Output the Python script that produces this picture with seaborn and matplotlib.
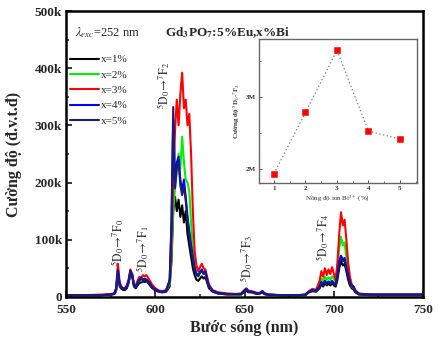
import matplotlib
matplotlib.use("Agg")
import matplotlib.pyplot as plt
from matplotlib.ticker import MultipleLocator, FixedLocator
import numpy as np
import pandas as pd
import seaborn as sns

# ---------------- data ----------------
wavelength = [550, 560, 570, 575, 577, 578, 579, 580, 581, 582,
              583, 584, 585, 586, 587, 588, 589, 590, 591, 592,
              593, 594, 595, 596, 597, 598, 600, 602, 604, 606,
              608, 609, 610, 611, 612, 613, 614, 615, 616, 617,
              618, 619, 620, 621, 622, 623, 624, 625, 626, 627,
              628, 629, 630, 632, 635, 640, 645, 648, 650, 651,
              652, 654, 656, 658, 660, 661, 663, 670, 680, 684,
              686, 688, 690, 691, 692, 693, 694, 695, 696, 697,
              698, 699, 700, 701, 702, 703, 704, 705, 706, 707,
              708, 709, 710, 711, 712, 714, 720, 730, 740, 750]

# intensities in units of k (1000 counts)
x1 = [3, 3, 3, 4, 5, 10, 38, 18, 14, 12,
      12, 15, 24, 38, 40, 18, 15, 20, 24, 25,
      27, 26, 28, 24, 20, 16, 11, 9, 8, 9,
      18, 60, 150, 175, 150, 170, 140, 160, 130, 150,
      110, 90, 70, 50, 38, 30, 28, 32, 36, 32,
      35, 25, 15, 9, 6, 4, 4, 4, 9, 11,
      8, 8, 6, 5, 8, 5, 3, 3, 3, 3,
      8, 10, 9, 12, 15, 22, 18, 24, 20, 23,
      20, 24, 20, 18, 30, 50, 62, 55, 58, 45,
      30, 20, 15, 13, 8, 4, 3, 3, 3, 3]
x2 = [3, 3, 3, 4, 6, 12, 42, 20, 16, 14,
      14, 18, 28, 44, 36, 20, 18, 24, 28, 28,
      32, 30, 31, 28, 24, 19, 13, 10, 9, 11,
      22, 70, 150, 190, 220, 250, 225, 280, 235, 205,
      200, 185, 130, 85, 55, 42, 36, 42, 46, 40,
      42, 30, 19, 11, 7, 5, 5, 5, 11, 13,
      10, 9, 7, 6, 9, 6, 4, 3, 3, 4,
      9, 12, 11, 16, 22, 32, 28, 35, 30, 34,
      30, 36, 32, 26, 50, 85, 105, 90, 95, 70,
      45, 28, 18, 15, 10, 5, 4, 4, 4, 4]
x3 = [3, 3, 4, 5, 6, 15, 58, 25, 18, 15,
      16, 20, 30, 48, 40, 22, 20, 28, 35, 33,
      38, 36, 38, 33, 28, 22, 15, 11, 10, 12,
      25, 90, 200, 290, 345, 300, 355, 392, 330, 345,
      300, 320, 250, 150, 80, 55, 45, 52, 58, 50,
      48, 35, 22, 12, 8, 6, 5, 6, 12, 15,
      11, 10, 8, 6, 10, 7, 4, 3, 3, 4,
      10, 14, 12, 20, 28, 45, 35, 50, 38, 48,
      40, 52, 40, 30, 60, 110, 148, 125, 135, 100,
      60, 35, 22, 18, 12, 6, 4, 4, 4, 4]
x4 = [3, 3, 3, 4, 6, 14, 47, 22, 16, 14,
      15, 18, 28, 46, 38, 20, 18, 24, 30, 34,
      30, 32, 30, 27, 23, 18, 13, 10, 9, 11,
      30, 120, 310, 200, 235, 245, 205, 185, 205, 175,
      140, 115, 90, 70, 50, 40, 38, 44, 48, 42,
      45, 30, 19, 11, 7, 5, 5, 5, 12, 14,
      10, 9, 7, 6, 10, 6, 4, 3, 3, 4,
      9, 12, 11, 14, 18, 26, 22, 28, 24, 27,
      24, 28, 24, 22, 38, 62, 72, 65, 68, 52,
      38, 25, 20, 18, 10, 5, 4, 4, 4, 4]
x5 = [3, 3, 3, 4, 5, 13, 44, 21, 15, 13,
      14, 17, 27, 44, 37, 19, 17, 23, 28, 32,
      29, 30, 29, 26, 22, 17, 12, 9, 8, 10,
      28, 130, 332, 190, 225, 235, 195, 178, 195, 168,
      135, 110, 85, 65, 47, 38, 36, 42, 46, 40,
      43, 28, 18, 10, 6, 5, 5, 5, 11, 13,
      9, 8, 6, 5, 9, 5, 4, 3, 3, 3,
      8, 11, 10, 13, 17, 24, 21, 26, 23, 25,
      23, 26, 23, 21, 36, 58, 68, 62, 64, 49,
      36, 24, 19, 16, 9, 5, 4, 4, 4, 4]

series_labels = ["x=1%", "x=2%", "x=3%", "x=4%", "x=5%"]
series_colors = ["#000000", "#00ee00", "#ff0000", "#0000ff", "#1a1a80"]

inset_conc = [1, 2, 3, 4, 5]
inset_val = [1.94, 2.79, 3.65, 2.53, 2.42]  # in M

x_ticks = [550, 600, 650, 700, 750]
y_ticks = [0, 100, 200, 300, 400, 500]
y_ticklabels = ["0", "100k", "200k", "300k", "400k", "500k"]

# ---------------- figure ----------------
sns.set_theme(style="ticks")
plt.rcParams["font.family"] = ["Liberation Serif", "DejaVu Serif"]
plt.rcParams["mathtext.fontset"] = "stix"

rows = []
for lab, vals in zip(series_labels, [x1, x2, x3, x4, x5]):
    for w, v in zip(wavelength, vals):
        rows.append((w, v, lab))
df = pd.DataFrame(rows, columns=["wl", "I", "series"])

fig = plt.figure(figsize=(4.38, 3.44), dpi=100)
ax = fig.add_axes([0.151, 0.137, 0.815, 0.831])

sns.lineplot(data=df, x="wl", y="I", hue="series", hue_order=series_labels,
             palette=dict(zip(series_labels, series_colors)), estimator=None,
             sort=False, lw=1.5, ax=ax)

ax.set_xlim(550, 750)
ax.set_ylim(0, 500)
ax.set_xticks(x_ticks)
ax.set_yticks(y_ticks)
ax.set_yticklabels(y_ticklabels)
ax.xaxis.set_minor_locator(MultipleLocator(25))
ax.yaxis.set_minor_locator(MultipleLocator(50))
ax.tick_params(which="major", direction="in", length=4, width=1.3,
               labelsize=9.5, top=False, right=False)
ax.tick_params(axis="x", which="major", pad=5)
ax.tick_params(axis="y", which="major", pad=3)
ax.tick_params(which="minor", direction="in", length=2.5, width=1.1,
               top=False, right=False)
for lab in ax.get_xticklabels() + ax.get_yticklabels():
    lab.set_fontweight("bold")
for sp in ax.spines.values():
    sp.set_linewidth(1.8)
    sp.set_visible(True)
    sp.set_color("black")

ax.set_xlabel("Bước sóng (nm)", fontsize=11.5, fontweight="bold", labelpad=3)
ax.set_ylabel("Cường độ (đ.v.t.đ)", fontsize=11.5, fontweight="bold", labelpad=9)

leg = ax.legend(loc="upper left", bbox_to_anchor=(0.005, 0.855), frameon=False,
                fontsize=8, handlelength=2.6, handletextpad=0.15,
                labelspacing=0.5, borderaxespad=0, borderpad=0.2)
for line in leg.get_lines():
    line.set_linewidth(1.5)

ax.text(0.025, 0.925, r"$\lambda_{exc}$=252 nm", transform=ax.transAxes,
        fontsize=9, ha="left", va="center")
ax.text(0.277, 0.925, r"Gd$_\mathbf{3}$PO$_\mathbf{7}$:5%Eu,x%Bi", transform=ax.transAxes,
        fontsize=9.5, fontweight="bold", ha="left", va="center")

annots = [
    (579, 95, "0"),
    (593, 84, "1"),
    (604.5, 370, "2"),
    (651, 66, "3"),
    (694, 103, "4"),
]
for xw, yv, n in annots:
    ax.text(xw, yv, r"$^5\mathrm{D}_0\!\rightarrow\!^7\mathrm{F}_" + n + "$",
            rotation=90, ha="center", va="center", fontsize=8.5)

# ---------------- inset ----------------
ax2 = fig.add_axes([0.591, 0.468, 0.361, 0.419])
sns.lineplot(x=inset_conc, y=inset_val, ax=ax2, color="#777777", lw=0.9,
             linestyle=(0, (1, 2)))
sns.scatterplot(x=inset_conc, y=inset_val, ax=ax2, marker="s", s=22,
                color="#ff0000", edgecolor="#ff0000", zorder=3)
ax2.set_xlim(0.52, 5.54)
ax2.set_ylim(1.81, 3.81)
ax2.set_xticks(inset_conc)
ax2.xaxis.set_minor_locator(MultipleLocator(0.5))
ax2.set_yticks([2, 3])
ax2.set_yticklabels(["2M", "3M"])
ax2.yaxis.set_minor_locator(FixedLocator([2.5, 3.5]))
ax2.tick_params(which="major", direction="in", length=2.5, width=0.6,
                labelsize=5, pad=2, colors="#333333")
ax2.tick_params(which="minor", direction="in", length=1.5, width=0.5,
                colors="#333333")
for lab in ax2.get_xticklabels() + ax2.get_yticklabels():
    lab.set_fontweight("bold")
for sp in ax2.spines.values():
    sp.set_linewidth(1.0)
    sp.set_color("#666666")
ax2.set_xlabel(r"Nồng độ ion Bi$^{3+}$ (%)", fontsize=5, labelpad=2, color="#333333")
ax2.set_ylabel(r"Cường độ $^5$D$_0$-$^7$F$_2$", fontsize=5, fontweight="bold",
               labelpad=3, color="#333333")

fig.savefig("out.png", dpi=100)
